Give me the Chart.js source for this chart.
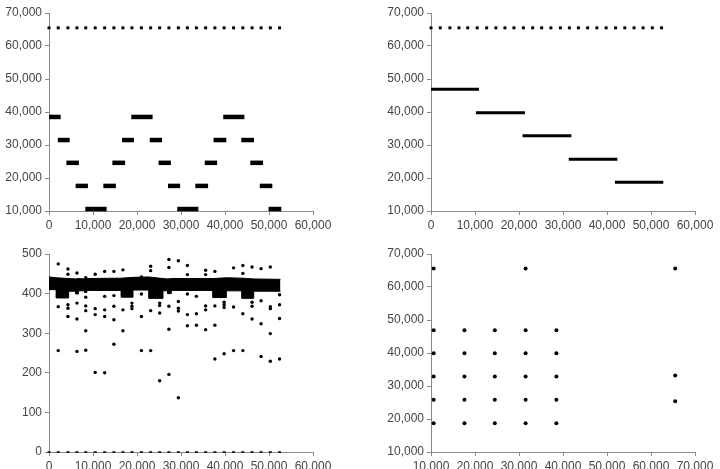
<!DOCTYPE html>
<html>
<head>
<meta charset="utf-8">
<script src="https://cdn.jsdelivr.net/npm/chart.js@4.4.0/dist/chart.umd.min.js"></script>
<style>
  html, body { margin: 0; padding: 0; background: #fff; overflow: hidden; }
  #wrap { position: relative; width: 720px; height: 469px; overflow: hidden; }
  canvas { position: absolute; }
</style>
</head>
<body>
<div id="wrap">
  <canvas id="c1" width="360" height="235" style="left:0;top:0"></canvas>
  <canvas id="c2" width="360" height="235" style="left:360px;top:0"></canvas>
  <canvas id="c3" width="360" height="245" style="left:0;top:235px"></canvas>
  <canvas id="c4" width="360" height="245" style="left:360px;top:235px"></canvas>
</div>
<script>
// ---- data ----
// sample positions of the sparse rows (top dotted row, zero row, outlier columns)
const rowX = [0, 2100, 4300, 6350, 8350, 10500, 12650, 14750, 16800, 18850, 21000, 23100, 25150,
              27250, 29400, 31450, 33500, 35600, 37700, 39800, 41950, 44050, 46150, 48200, 50300, 52400];
const topRowValue = 65500;

// panel 1: staircase levels
const p1Start = [0, 2000, 3950, 6050, 8250, 12350, 14400, 16600, 18700, 22900, 24900, 27050, 29150,
                 33250, 35400, 37400, 39600, 43700, 45750, 47900, 49900];
const p1End   = [2650, 4700, 6800, 8850, 13100, 15200, 17300, 19300, 23550, 25700, 27700, 29800, 33950,
                 36150, 38200, 40300, 44400, 46600, 48650, 50750, 52800];
const p1Level = [38500, 31500, 24600, 17600, 10600, 17600, 24600, 31500, 38500, 31500, 24600, 17600, 10600,
                 17600, 24600, 31500, 38500, 31500, 24600, 17600, 10600];

// panel 2: descending levels
const p2Start = [0, 10200, 20800, 31300, 41800];
const p2End   = [10900, 21350, 31900, 42350, 52800];
const p2Level = [46900, 39800, 32800, 25700, 18700];

// panel 3: dense band (upper / lower edge) and outliers
const bandX  = [0, 1670, 1670, 4470, 4470, 6060, 6060, 6670, 6670, 8100, 8100, 8600, 8600, 16440, 16440,
                19090, 19090, 22730, 22730, 25910, 25910, 27000, 27000, 27800, 27800, 37270, 37270,
                40300, 40300, 43860, 43860, 46520, 46520, 52600];
const bandLo = [410, 410, 389, 389, 406, 406, 399, 399, 407, 407, 403, 403, 408, 408, 391,
                391, 409, 409, 388, 388, 407, 407, 400, 400, 408, 408, 390,
                390, 407, 407, 388, 388, 406, 406];
const bandHi = [442, 440, 440, 438, 438, 437, 437, 438, 438, 437, 437, 438, 438, 439, 439,
                441, 441, 442, 442, 438, 438, 437, 437, 438, 438, 438, 438,
                440, 440, 439, 439, 437, 437, 436];
const outX = [2100, 2100, 2100,
              4300, 4300, 4300, 4300, 4300,
              6350, 6350, 6350, 6350,
              8350, 8350, 8350, 8350, 8350, 8350,
              10500, 10500, 10500, 10500,
              12650, 12650, 12650, 12650, 12650,
              14750, 14750, 14750, 14750, 14750,
              16800, 16800, 16800,
              18850, 18850, 18850,
              21000, 21000, 21000, 21000,
              23100, 23100, 23100, 23100,
              25150, 25150, 25150, 25150,
              27250, 27250, 27250, 27250, 27250,
              29400, 29400, 29400, 29400, 29400,
              31450, 31450, 31450, 31450, 31450,
              33500, 33500, 33500,
              35600, 35600, 35600, 35600, 35600,
              37700, 37700, 37700, 37700,
              39800, 39800, 39800, 39800,
              41950, 41950, 41950,
              44050, 44050, 44050, 44050,
              46150, 46150, 46150, 46150,
              48200, 48200, 48200, 48200,
              50300, 50300, 50300, 50300, 50300,
              52400, 52400, 52400, 52400];
const outY = [475, 367, 256,
              462, 449, 372, 363, 342,
              452, 376, 336, 254,
              440, 391, 369, 357, 306, 257,
              449, 362, 347, 201,
              456, 393, 359, 342, 200,
              456, 395, 368, 334, 272,
              460, 359, 306,
              376, 368, 362,
              442, 399, 342, 256,
              469, 458, 357, 256,
              376, 370, 351, 180,
              486, 466, 368, 310, 196,
              483, 380, 363, 356, 137,
              471, 448, 399, 347, 319,
              393, 349, 320,
              459, 448, 369, 359, 309,
              456, 369, 320, 235,
              378, 372, 365, 248,
              465, 366, 256,
              471, 451, 349, 256,
              467, 378, 368, 336,
              463, 382, 324, 241,
              467, 367, 362, 299, 229,
              397, 372, 337, 235];

// panel 4: scatter points
const p4X = [10600, 10600, 10600, 10600, 10600,
             17600, 17600, 17600, 17600, 17600,
             24500, 24500, 24500, 24500, 24500,
             31500, 31500, 31500, 31500, 31500,
             38500, 38500, 38500, 38500, 38500,
             10600, 31500, 65500, 65500, 65500];
const p4Y = [18700, 25800, 32900, 39900, 46900,
             18700, 25800, 32900, 39900, 46900,
             18700, 25800, 32900, 39900, 46900,
             18700, 25800, 32900, 39900, 46900,
             18700, 25800, 32900, 39900, 46900,
             65600, 65600, 65600, 33200, 25400];

// tick values and labels
const bigTicks   = [10000, 20000, 30000, 40000, 50000, 60000, 70000];
const bigLabels  = ['10,000', '20,000', '30,000', '40,000', '50,000', '60,000', '70,000'];
const xTicks     = [0, 10000, 20000, 30000, 40000, 50000, 60000];
const xLabels    = ['0', '10,000', '20,000', '30,000', '40,000', '50,000', '60,000'];
const xLabelsDot = ['0', '10.000', '20.000', '30.000', '40.000', '50.000', '60.000'];
const p3YTicks   = [0, 100, 200, 300, 400, 500];
const p3YLabels  = ['0', '100', '200', '300', '400', '500'];
const p4XLabels  = ['10.000', '20.000', '30.000', '40.000', '50.000', '60.000', '70.000'];

// ---- styling ----
const AXIS = '#8a8a8a';
const TEXT = '#444444';
const FONT = { family: '"Liberation Sans", Arial, sans-serif', size: 12 };

function axis(ticks, labels, isX, fit) {
  return {
    type: 'linear',
    min: ticks[0],
    max: ticks[ticks.length - 1],
    afterBuildTicks: a => { a.ticks = ticks.map(v => ({ value: v })); },
    afterFit: a => { if (isX) a.height = fit; else a.width = fit; },
    grid: { drawOnChartArea: false, drawTicks: true, tickLength: 4, color: AXIS, lineWidth: 1 },
    border: { color: AXIS, width: 1 },
    ticks: {
      color: TEXT, font: FONT, padding: 3, maxRotation: 0, autoSkip: false,
      callback: (v, i) => labels[i]
    }
  };
}

function baseOptions(padding, xAxis, yAxis) {
  return {
    responsive: false,
    animation: false,
    events: [],
    layout: { padding: padding },
    plugins: { legend: { display: false }, tooltip: { enabled: false } },
    scales: { x: xAxis, y: yAxis }
  };
}

function dotRow(y) {
  return {
    data: rowX.map(x => ({ x: x, y: y })),
    pointStyle: 'rect', pointRadius: 2.1,
    backgroundColor: '#000', borderColor: '#000', borderWidth: 0,
    clip: false
  };
}

function segments(starts, ends, levels, width) {
  return starts.map((s, i) => ({
    data: [{ x: s, y: levels[i] }, { x: ends[i], y: levels[i] }],
    showLine: true, pointRadius: 0,
    borderColor: '#000', borderWidth: width,
    clip: false
  }));
}

// panel 1
new Chart(document.getElementById('c1'), {
  type: 'scatter',
  data: { datasets: [dotRow(topRowValue)].concat(segments(p1Start, p1End, p1Level, 4.5)) },
  options: baseOptions({ top: 13, right: 47, left: 0, bottom: 0 },
    axis(xTicks, xLabels, true, 24), axis(bigTicks, bigLabels, false, 49))
});

// panel 2
new Chart(document.getElementById('c2'), {
  type: 'scatter',
  data: { datasets: [dotRow(topRowValue)].concat(segments(p2Start, p2End, p2Level, 3)) },
  options: baseOptions({ top: 13, right: 25, left: 0, bottom: 0 },
    axis(xTicks, xLabels, true, 24), axis(bigTicks, bigLabels, false, 71))
});

// panel 3
new Chart(document.getElementById('c3'), {
  type: 'scatter',
  data: {
    datasets: [
      {
        data: bandX.map((x, i) => ({ x: x, y: bandLo[i] })),
        showLine: true, pointRadius: 0, borderColor: '#000', borderWidth: 1,
        backgroundColor: '#000', fill: false, clip: false
      },
      {
        data: bandX.map((x, i) => ({ x: x, y: bandHi[i] })),
        showLine: true, pointRadius: 0, borderColor: '#000', borderWidth: 1,
        backgroundColor: '#000', fill: '-1', clip: false
      },
      {
        data: outX.map((x, i) => ({ x: x, y: outY[i] })),
        pointStyle: 'circle', pointRadius: 1.7,
        backgroundColor: '#000', borderColor: '#000', borderWidth: 0, clip: false
      },
      {
        data: rowX.map(x => ({ x: x, y: 0 })),
        pointStyle: 'line', pointRadius: 1.5,
        borderColor: '#000', borderWidth: 1.5, clip: false
      }
    ]
  },
  options: baseOptions({ top: 19, right: 47, left: 0, bottom: 0 },
    axis(xTicks, xLabelsDot, true, 28), axis(p3YTicks, p3YLabels, false, 49))
});

// panel 4
new Chart(document.getElementById('c4'), {
  type: 'scatter',
  data: {
    datasets: [{
      data: p4X.map((x, i) => ({ x: x, y: p4Y[i] })),
      pointStyle: 'circle', pointRadius: 2,
      backgroundColor: '#000', borderColor: '#000', borderWidth: 0, clip: false
    }]
  },
  options: baseOptions({ top: 19, right: 25, left: 0, bottom: 0 },
    axis(bigTicks, p4XLabels, true, 28), axis(bigTicks, bigLabels, false, 71))
});
</script>
</body>
</html>
